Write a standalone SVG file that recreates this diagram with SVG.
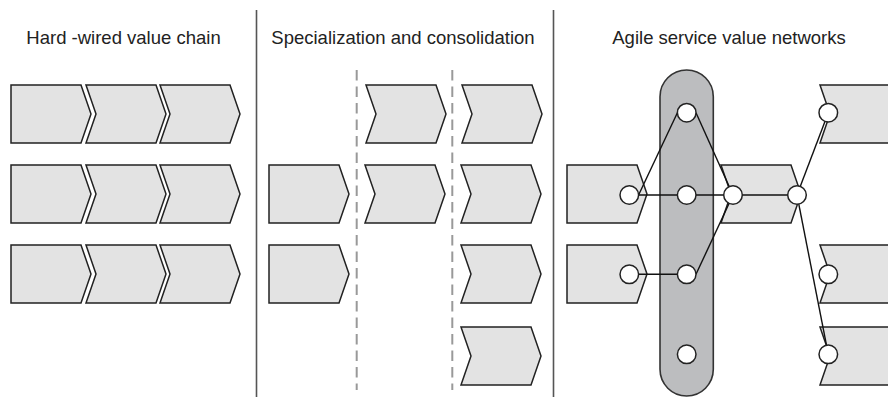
<svg xmlns="http://www.w3.org/2000/svg" xmlns:xlink="http://www.w3.org/1999/xlink" width="888" height="397" viewBox="0 0 888 397">
<style>
.title{font-family:"Liberation Sans",Arial,sans-serif;font-size:18.5px;fill:#222;text-anchor:middle}
.chev{fill:#e3e3e3;stroke:#222;stroke-width:1.5;stroke-linejoin:miter}
.sep{stroke:#555;stroke-width:1.6;fill:none}
.dash{stroke:#999;stroke-width:2;stroke-dasharray:10.5 6;fill:none}
.conn{stroke:#111;stroke-width:1.4;fill:none}
.port{fill:#fff;stroke:#222;stroke-width:1.5}
.cap{fill:#bcbdbf;stroke:#333;stroke-width:1.6}
</style>
<defs>
<path id="flat" d="M0,0 H70 L80,29 L70,58 H0 Z"/>
<path id="notch" d="M0,0 H70 L80,29 L70,58 H0 L10,29 Z"/>
<path id="notchLong" d="M0,0 H100 V58 H0 L10,29 Z"/>
</defs>

<g id="titles">
<text class="title" x="123.5" y="44">Hard -wired value chain</text>
<text class="title" x="403" y="44">Specialization and consolidation</text>
<text class="title" x="729" y="44">Agile service value networks</text>
</g>

<g id="separators">
<line class="sep" x1="256.5" y1="10" x2="256.5" y2="397"/>
<line class="sep" x1="553.5" y1="10" x2="553.5" y2="397"/>
<line class="dash" x1="356.7" y1="70" x2="356.7" y2="390"/>
<line class="dash" x1="452.3" y1="70" x2="452.3" y2="390"/>
</g>

<g id="hardwired">
<use class="chev" xlink:href="#flat" x="11" y="85"/>
<use class="chev" xlink:href="#notch" x="86" y="85"/>
<use class="chev" xlink:href="#notch" x="160" y="85"/>
<use class="chev" xlink:href="#flat" x="11" y="165"/>
<use class="chev" xlink:href="#notch" x="86" y="165"/>
<use class="chev" xlink:href="#notch" x="160" y="165"/>
<use class="chev" xlink:href="#flat" x="11" y="245"/>
<use class="chev" xlink:href="#notch" x="86" y="245"/>
<use class="chev" xlink:href="#notch" x="160" y="245"/>
</g>

<g id="specialization">
<use class="chev" xlink:href="#flat" x="269" y="165"/>
<use class="chev" xlink:href="#flat" x="269" y="245"/>
<use class="chev" xlink:href="#notch" x="366" y="85"/>
<use class="chev" xlink:href="#notch" x="365" y="165"/>
<use class="chev" xlink:href="#notch" x="462" y="85"/>
<use class="chev" xlink:href="#notch" x="461" y="165"/>
<use class="chev" xlink:href="#notch" x="461" y="245"/>
<use class="chev" xlink:href="#notch" x="461" y="327"/>
</g>

<g id="network-shapes">
<rect id="platform" class="cap" x="660" y="70" width="53.3" height="326" rx="26.65" ry="26.65"/>
<use class="chev" xlink:href="#flat" x="567" y="165"/>
<use class="chev" xlink:href="#flat" x="567" y="245"/>
<use class="chev" xlink:href="#notch" x="721" y="165"/>
<use class="chev" xlink:href="#notchLong" x="820" y="85"/>
<use class="chev" xlink:href="#notchLong" x="820" y="245"/>
<use class="chev" xlink:href="#notchLong" x="820" y="327"/>
</g>

<g id="connectors">
<line class="conn" x1="629.3" y1="195" x2="797" y2="195"/>
<line class="conn" x1="638.6" y1="195" x2="677.4" y2="112.7"/>
<line class="conn" x1="696" y1="112.7" x2="733" y2="195"/>
<line class="conn" x1="629.3" y1="274.3" x2="686.7" y2="274.3"/>
<line class="conn" x1="696" y1="274.3" x2="733" y2="195"/>
<line class="conn" x1="797" y1="195" x2="828.3" y2="112.7"/>
<line class="conn" x1="797" y1="195" x2="828.3" y2="354.3"/>
</g>

<g id="ports">
<circle class="port" cx="686.7" cy="112.7" r="9.3"/>
<circle class="port" cx="686.7" cy="195" r="9.3"/>
<circle class="port" cx="686.7" cy="274.3" r="9.3"/>
<circle class="port" cx="686.7" cy="354.3" r="9.3"/>
<circle class="port" cx="629.3" cy="195" r="9.3"/>
<circle class="port" cx="629.3" cy="274.3" r="9.3"/>
<circle class="port" cx="733" cy="195" r="9.3"/>
<circle class="port" cx="797" cy="195" r="9.3"/>
<circle class="port" cx="828.3" cy="112.7" r="9.3"/>
<circle class="port" cx="828.3" cy="274.3" r="9.3"/>
<circle class="port" cx="828.3" cy="354.3" r="9.3"/>
</g>
</svg>
